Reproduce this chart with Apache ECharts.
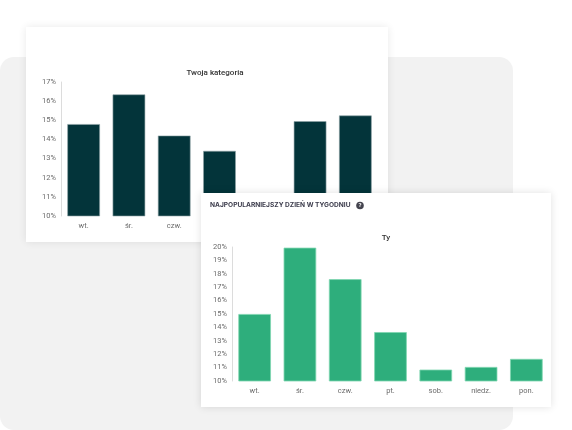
<!DOCTYPE html>
<html>
<head>
<meta charset="utf-8">
<style>
  html, body { margin: 0; padding: 0; background: #ffffff; }
  #chart-container { width: 572px; height: 430px; }
</style>
<script src="https://cdn.jsdelivr.net/npm/echarts@6/dist/echarts.min.js"></script>
</head>
<body>
<div id="chart-container"></div>
<script>
var dom = document.getElementById("chart-container");
var myChart = echarts.init(dom, null, { renderer: "canvas" });

// dni tygodnia i udziały (%)
const days = ["wt.", "śr.", "czw.", "pt.", "sob.", "niedz.", "pon."];
const categoryShare = [14.8, 16.35, 14.2, 13.4, 11.0, 14.95, 15.25];
const userShare = [15.0, 19.95, 17.6, 13.65, 10.85, 11.05, 11.65];

const categoryTicks = [10, 17, 1];
const userTicks = [10, 20, 1];

const FONT = "Roboto, 'Noto Sans', sans-serif";

function axisPair(gridIndex, ticks, z) {
  return {
    x: {
      type: "category",
      gridIndex: gridIndex,
      data: days,
      z: z,
      axisLine: { show: false },
      axisTick: { show: false },
      axisLabel: { color: "#6b6b6b", fontSize: 7.5, fontFamily: FONT, margin: 6 },
    },
    y: {
      type: "value",
      gridIndex: gridIndex,
      min: ticks[0],
      max: ticks[1],
      interval: ticks[2],
      z: z,
      axisLine: { show: true, lineStyle: { color: "#dcdcdc", width: 1 } },
      axisTick: { show: false },
      splitLine: { show: false },
      axisLabel: { color: "#6b6b6b", fontSize: 7.5, fontFamily: FONT, margin: 5, formatter: "{value}%" },
    },
  };
}

const backAxes = axisPair(0, categoryTicks, 2);
const frontAxes = axisPair(1, userTicks, 6);

var option = {
  backgroundColor: "#ffffff",
  animation: false,
  graphic: [
    {
      type: "rect",
      z: 0,
      shape: { x: 0, y: 57, width: 513, height: 373, r: 14 },
      style: { fill: "#f2f2f2" },
    },
    {
      type: "rect",
      z: 1,
      shape: { x: 26, y: 27, width: 362, height: 215 },
      style: { fill: "#ffffff", shadowBlur: 8, shadowColor: "rgba(0,0,0,0.09)" },
    },
    {
      type: "rect",
      z: 5,
      shape: { x: 201, y: 193, width: 350, height: 214 },
      style: { fill: "#ffffff", shadowBlur: 8, shadowColor: "rgba(0,0,0,0.12)" },
    },
    {
      type: "text",
      z: 7,
      x: 210,
      y: 202,
      style: {
        text: "NAJPOPULARNIEJSZY DZIEŃ W TYGODNIU",
        fill: "#3c3c4c",
        font: "bold 6.6px Inter, Roboto, sans-serif",
      },
    },
    {
      type: "circle",
      z: 7,
      shape: { cx: 360, cy: 205.5, r: 3.8 },
      style: { fill: "#44444f" },
    },
    {
      type: "text",
      z: 8,
      x: 360,
      y: 205.7,
      style: {
        text: "?",
        fill: "#ffffff",
        font: "bold 6px Roboto, sans-serif",
        align: "center",
        verticalAlign: "middle",
      },
    },
  ],
  title: [
    {
      text: "Twoja kategoria",
      left: 210,
      top: 64,
      textAlign: "center",
      z: 3,
      textStyle: { fontSize: 8, fontWeight: 500, color: "#333333", fontFamily: FONT },
    },
    {
      text: "Ty",
      left: 381,
      top: 229,
      textAlign: "center",
      z: 7,
      textStyle: { fontSize: 8, fontWeight: 500, color: "#333333", fontFamily: FONT },
    },
  ],
  grid: [
    { left: 61, right: 194, top: 82, bottom: 214 },
    { left: 232, right: 23, top: 247, bottom: 49 },
  ],
  xAxis: [backAxes.x, frontAxes.x],
  yAxis: [backAxes.y, frontAxes.y],
  series: [
    {
      name: "Twoja kategoria",
      type: "bar",
      xAxisIndex: 0,
      yAxisIndex: 0,
      z: 3,
      barWidth: "72%",
      data: categoryShare,
      itemStyle: { color: "#03343a", borderColor: "#8fa3a6", borderWidth: 0.6 },
    },
    {
      name: "Ty",
      type: "bar",
      xAxisIndex: 1,
      yAxisIndex: 1,
      z: 7,
      barWidth: "72%",
      data: userShare,
      itemStyle: { color: "#2eae7c", borderColor: "#7fd6b0", borderWidth: 0.8 },
    },
  ],
};

myChart.setOption(option);
window.addEventListener("resize", myChart.resize);
</script>
</body>
</html>
